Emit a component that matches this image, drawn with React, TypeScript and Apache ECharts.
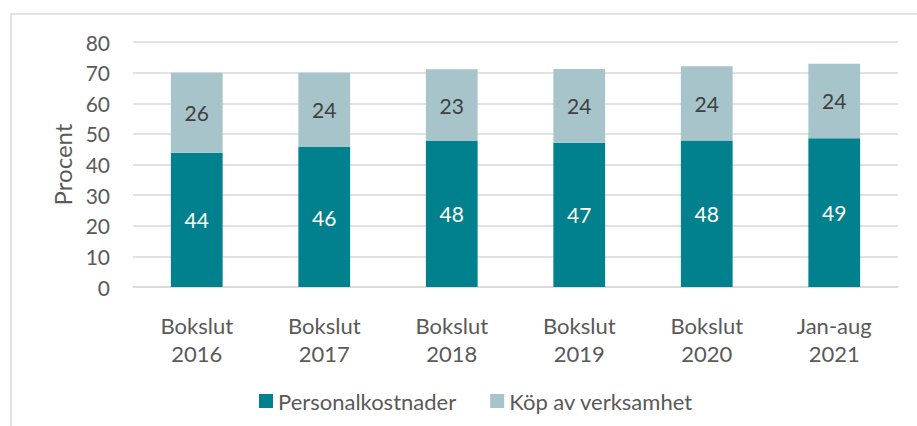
import React, { useEffect, useRef } from "react";
import * as echarts from "echarts";

const categories = ["Bokslut\n2016", "Bokslut\n2017", "Bokslut\n2018", "Bokslut\n2019", "Bokslut\n2020", "Jan-aug\n2021"];
const personalkostnader = [43.8, 45.7, 47.7, 47.1, 47.8, 48.6];
const kopAvVerksamhet = [26.2, 24.3, 23.4, 24.1, 24.3, 24.3];
const yTicks = [0, 10, 20, 30, 40, 50, 60, 70, 80];

const FONT = "Lato, 'Noto Sans', sans-serif";

export default function App() {
  const ref = useRef<HTMLDivElement>(null);
  useEffect(() => {
    document.body.style.margin = "0";
    if (!ref.current) return;
    const chart = echarts.init(ref.current, null, { renderer: "svg" });
    chart.setOption({
      animation: false,
      backgroundColor: "#ffffff",
      textStyle: { fontFamily: FONT },
      graphic: [
        {
          type: "rect",
          shape: { x: 11, y: 14, width: 1200, height: 1200 },
          style: { fill: "none", stroke: "#D9D9D9", lineWidth: 1.5 },
          silent: true,
          z: -10,
        },
      ],
      grid: { left: 133, right: 19, top: 42, bottom: 139, containLabel: false },
      legend: {
        top: 390,
        left: 259,
        padding: 0,
        itemWidth: 14,
        itemHeight: 14,
        itemGap: 34,
        icon: "rect",
        textStyle: { fontFamily: FONT, fontSize: 22, color: "#595959" },
        data: ["Personalkostnader", "Köp av verksamhet"],
      },
      xAxis: {
        type: "category",
        data: categories,
        axisLine: { lineStyle: { color: "#D9D9D9", width: 1.5 } },
        axisTick: { show: false },
        axisLabel: {
          fontFamily: FONT,
          fontSize: 22,
          color: "#595959",
          lineHeight: 28,
          margin: 24,
        },
      },
      yAxis: {
        type: "value",
        min: yTicks[0],
        max: yTicks[yTicks.length - 1],
        interval: 10,
        name: "Procent",
        nameLocation: "middle",
        nameGap: 56,
        nameTextStyle: { fontFamily: FONT, fontSize: 24, color: "#595959" },
        axisLine: { show: false },
        axisTick: { show: false },
        axisLabel: { fontFamily: FONT, fontSize: 21, color: "#595959", margin: 23 },
        splitLine: { lineStyle: { color: "#D9D9D9", width: 1.5 } },
      },
      series: [
        {
          name: "Personalkostnader",
          type: "bar",
          stack: "total",
          barWidth: "40.6%",
          data: personalkostnader,
          itemStyle: { color: "#00818D" },
          label: {
            show: true,
            position: "inside",
            fontFamily: FONT,
            fontSize: 21,
            color: "#ffffff",
            formatter: (p: any) => String(Math.round(p.value)),
          },
        },
        {
          name: "Köp av verksamhet",
          type: "bar",
          stack: "total",
          barWidth: "40.6%",
          data: kopAvVerksamhet,
          itemStyle: { color: "#A7C4CA" },
          label: {
            show: true,
            position: "inside",
            fontFamily: FONT,
            fontSize: 21,
            color: "#404040",
            formatter: (p: any) => String(Math.round(p.value)),
          },
        },
      ],
    });
    return () => chart.dispose();
  }, []);
  return <div ref={ref} style={{ width: 917, height: 426 }} />;
}
